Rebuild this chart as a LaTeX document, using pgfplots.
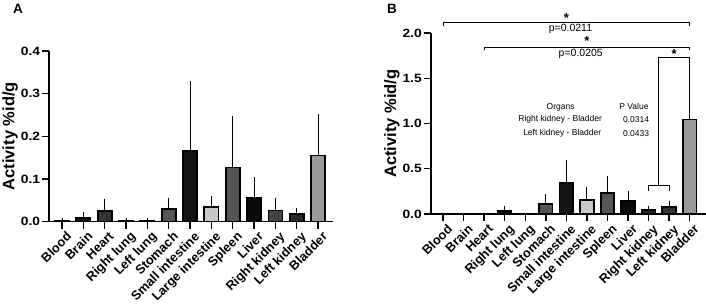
\documentclass[border=0pt]{standalone}
\usepackage{fontspec}
\setmainfont{Liberation Sans}
\usepackage{pgfplots}
\pgfplotsset{compat=1.18}

% bar fills
\definecolor{gA}{HTML}{1E1E1E}
\definecolor{gB}{HTML}{141414}
\definecolor{gC}{HTML}{333333}
\definecolor{gD}{HTML}{555555}
\definecolor{gE}{HTML}{C8C8C8}
\definecolor{gF}{HTML}{0A0A0A}
\definecolor{gG}{HTML}{444444}
\definecolor{gH}{HTML}{262626}
\definecolor{gI}{HTML}{999999}

\pgfplotsset{
  organ axis/.style={
    scale only axis,
    axis x line=bottom, axis y line=left,
    axis line style={-, line width=1.8pt, black},
    tick align=outside,
    major tick length=7pt,
    tick style={black, line width=1.4pt},
    xtick={0,...,12},
    xticklabels={Blood,Brain,Heart,Right lung,Left lung,Stomach,Small intestine,Large intestine,Spleen,Liver,Right kidney,Left kidney,Bladder},
    xticklabel style={font=\bfseries\fontsize{12.8}{12.8}\selectfont, rotate=45, anchor=north east, inner sep=1pt, xshift=2pt, yshift=-3pt},
    /pgf/number format/assume math mode=true,
    yticklabel style={font=\bfseries\fontsize{12}{12}\selectfont, xscale=1.15, anchor=east, inner sep=1.5pt, /pgf/number format/fixed, /pgf/number format/fixed zerofill, /pgf/number format/precision=1},
    ylabel={Activity \%id/g},
    ylabel style={font=\bfseries\fontsize{16.5}{16.5}\selectfont, inner sep=1pt},
    ymin=0,
    clip=false,
    ybar, bar width=0.66,
  },
  organ bar/.style={
    fill=#1, draw=black, line width=1.7pt, bar shift=0pt,
    error bars/.cd, y dir=plus, y explicit,
    error bar style={line width=1pt, black},
    error mark options={line width=1pt, mark size=2pt, black},
  },
}

\begin{document}
\begin{tikzpicture}[x=1pt,y=1pt]
\useasboundingbox (0,0) rectangle (706,306);

\node[font=\bfseries\fontsize{13.5}{13.5}\selectfont] at (18pt,297pt) {A};
\node[font=\bfseries\fontsize{13.5}{13.5}\selectfont] at (392pt,297pt) {B};

% Panel A
\begin{axis}[organ axis,
  at={(49pt,84.5pt)}, anchor=south west,
  width=284pt, height=170.5pt,
  xmin=-0.61, xmax=12.70, ymax=0.4,
  ytick={0,0.1,0.2,0.3,0.4}]
\addplot[organ bar=gA] coordinates {(0,0.002) +- (0,0.002)};
\addplot[organ bar=gB] coordinates {(1,0.009) +- (0,0.008)};
\addplot[organ bar=gC] coordinates {(2,0.025) +- (0,0.024)};
\addplot[organ bar=gC] coordinates {(3,0.002) +- (0,0.001)};
\addplot[organ bar=gC] coordinates {(4,0.002) +- (0,0.001)};
\addplot[organ bar=gD] coordinates {(5,0.030) +- (0,0.021)};
\addplot[organ bar=gB] coordinates {(6,0.166) +- (0,0.160)};
\addplot[organ bar=gE] coordinates {(7,0.034) +- (0,0.022)};
\addplot[organ bar=gD] coordinates {(8,0.127) +- (0,0.115)};
\addplot[organ bar=gF] coordinates {(9,0.055) +- (0,0.044)};
\addplot[organ bar=gG] coordinates {(10,0.026) +- (0,0.025)};
\addplot[organ bar=gH] coordinates {(11,0.017) +- (0,0.011)};
\addplot[organ bar=gI] coordinates {(12,0.155) +- (0,0.092)};
\end{axis}

% Panel B
\begin{axis}[organ axis,
  at={(430.7pt,92pt)}, anchor=south west,
  width=275pt, height=181pt,
  xmin=-0.6, xmax=12.78, ymax=2.0,
  ytick={0,0.5,1.0,1.5,2.0}]
\addplot[organ bar=gF] coordinates {(3,0.036) +- (0,0.034)};
\addplot[organ bar=gD] coordinates {(5,0.110) +- (0,0.090)};
\addplot[organ bar=gB] coordinates {(6,0.345) +- (0,0.225)};
\addplot[organ bar=gE] coordinates {(7,0.155) +- (0,0.120)};
\addplot[organ bar=gD] coordinates {(8,0.230) +- (0,0.167)};
\addplot[organ bar=gF] coordinates {(9,0.145) +- (0,0.090)};
\addplot[organ bar=gH] coordinates {(10,0.045) +- (0,0.025)};
\addplot[organ bar=gC] coordinates {(11,0.074) +- (0,0.051)};
\addplot[organ bar=gI] coordinates {(12,1.044) +- (0,0.610)};

% significance brackets
\draw[line width=1pt] (0,2.076) |- (12,2.113) -- (12,2.076);
\node[font=\bfseries\fontsize{13}{13}\selectfont] at (6,2.17) {*};
\node[font=\fontsize{10.5}{10.5}\selectfont] at (6.2,2.043) {p=0.0211};
\draw[line width=1pt] (2,1.808) |- (12,1.845) -- (12,1.808);
\node[font=\bfseries\fontsize{13}{13}\selectfont] at (7,1.91) {*};
\node[font=\fontsize{10.5}{10.5}\selectfont] at (6.7,1.772) {p=0.0205};
\draw[line width=1pt] (10.5,0.312) |- (12,1.728) -- (12,1.66);
\node[font=\bfseries\fontsize{13}{13}\selectfont] at (11.25,1.77) {*};
\draw[line width=1pt] (10,0.257) |- (11,0.312) -- (11,0.257);

% p value table
\node[font=\fontsize{8.5}{8.5}\selectfont] at (5.72,1.183) {Organs};
\node[font=\fontsize{8.5}{8.5}\selectfont] at (9.29,1.183) {P Value};
\node[font=\fontsize{8.5}{8.5}\selectfont] at (5.7,1.044) {Right kidney - Bladder};
\node[font=\fontsize{8.5}{8.5}\selectfont] at (9.39,1.044) {0.0314};
\node[font=\fontsize{8.5}{8.5}\selectfont] at (5.8,0.89) {Left kidney - Bladder};
\node[font=\fontsize{8.5}{8.5}\selectfont] at (9.39,0.89) {0.0433};
\end{axis}
\end{tikzpicture}
\end{document}
